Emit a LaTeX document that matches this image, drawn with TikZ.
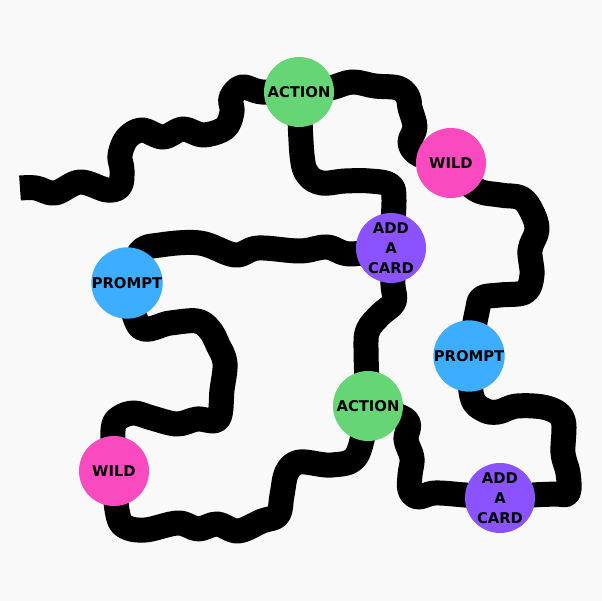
\documentclass[tikz,border=0pt]{standalone}
\usepackage{fontspec}
\setmainfont{DejaVu Sans}
\definecolor{bgc}{HTML}{F9F9F9}
\definecolor{actc}{HTML}{66D575}
\definecolor{wildc}{HTML}{F94BBF}
\definecolor{addc}{HTML}{8B52FF}
\definecolor{promptc}{HTML}{3DAEFF}
\pgfdeclarelayer{bg}
\pgfdeclarelayer{roads}
\pgfsetlayers{bg,roads,main}
\newcommand{\ff}{\fontsize{14.8}{20}\selectfont\bfseries}

\begin{document}
\begin{tikzpicture}[x=1pt,y=-1pt,
   spot/.style={circle,minimum size=70pt,inner sep=0pt,align=center,font=\ff},
   road/.style={draw=black,line width=25pt,line join=round,line cap=round}]
   \begin{pgfonlayer}{bg}
   \fill[bgc] (0,0) rectangle (602,601);
   \end{pgfonlayer}
   \useasboundingbox (0,0) rectangle (602,601);

   % spots
   \node[spot,fill=actc]    (act1)    at (299, 92) {ACTION};
   \node[spot,fill=wildc]   (wild1)   at (451,163) {WILD};
   \node[spot,fill=addc]    (add1)    at (391,248) {ADD\\A\\CARD};
   \node[spot,fill=promptc] (prompt1) at (127,283) {PROMPT};
   \node[spot,fill=promptc] (prompt2) at (469,356) {PROMPT};
   \node[spot,fill=actc]    (act2)    at (368,406) {ACTION};
   \node[spot,fill=wildc]   (wild2)   at (114,471) {WILD};
   \node[spot,fill=addc]    (add2)    at (500,498) {ADD\\A\\CARD};
   \coordinate (start) at (20,188);

   % roads
   \begin{pgfonlayer}{roads}
   \draw[road,line cap=butt] plot[smooth,tension=.6] coordinates {(start) (36,188) (55,193)
      (80,182) (107,190) (120,186) (122,170) (120,155) (127,138) (142,130) (163,137)
      (183,129) (203,135) (225,128) (232,112) (231,98) (242,87) (262,92) (act1)};
   \draw[road] plot[smooth,tension=.6] coordinates {(act1) (330,88) (352,82) (375,86)
      (398,88) (408,97) (410,108) (415,127) (410,143) (420,155) (wild1)};
   \draw[road] plot[smooth,tension=.6] coordinates {(wild1) (475,189) (500,195) (521,198)
      (532,212) (537,230) (530,250) (532,275) (525,292) (500,295) (482,298) (477,312) (prompt2)};
   \draw[road] plot[smooth,tension=.6] coordinates {(prompt2) (472,397) (484,410) (498,412)
      (517,406) (547,408) (563,420) (563,453) (568,473) (568,493) (555,494) (533,495) (add2)};
   \draw[road] plot[smooth,tension=.6] coordinates {(add2) (465,495) (435,493) (418,497)
      (410,490) (410,475) (412,458) (406,440) (406,420) (act2)};
   \draw[road] plot[smooth,tension=.6] coordinates {(act2) (357,455) (332,465) (300,462)
      (287,472) (282,495) (278,515) (262,521) (238,531) (217,524) (198,529) (178,523)
      (145,530) (124,526) (117,510) (wild2)};
   \draw[road] plot[smooth,tension=.6] coordinates {(wild2) (113,430) (119,418) (134,413)
      (152,418) (177,424) (197,419) (218,419) (222,390) (225,363) (218,345) (210,330)
      (197,321) (170,323) (140,327) (prompt1)};
   \draw[road] plot[smooth,tension=.6] coordinates {(prompt1) (140,252) (160,245) (200,243)
      (235,255) (258,248) (300,251) (327,247) (350,254) (add1)};
   \draw[road] plot[smooth,tension=.6] coordinates {(add1) (394,200) (390,185) (370,181)
      (345,181) (322,183) (308,175) (302,155) (act1)};
   \draw[road] plot[smooth,tension=.6] coordinates {(add1) (393,285) (394,302) (380,315)
      (368,330) (366,350) (act2)};
   \end{pgfonlayer}
\end{tikzpicture}
\end{document}
